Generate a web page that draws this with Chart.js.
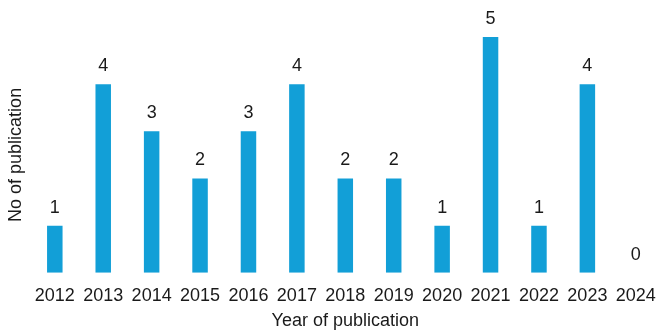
<!DOCTYPE html>
<html>
<head>
<meta charset="utf-8">
<style>
  html, body { margin: 0; padding: 0; background: #ffffff; }
  #wrap { width: 660px; height: 332px; position: relative; }
</style>
<script src="https://cdn.jsdelivr.net/npm/chart.js@4.4.0/dist/chart.umd.min.js"></script>
</head>
<body>
<div id="wrap"><canvas id="chart"></canvas></div>
<script>
// Publications per year
const years = ['2012', '2013', '2014', '2015', '2016', '2017', '2018', '2019', '2020', '2021', '2022', '2023', '2024'];
const publications = [1, 4, 3, 2, 3, 4, 2, 2, 1, 5, 1, 4, 0];

const FONT = "'Liberation Sans', Arial, sans-serif";
const TEXT = '#1a1a1a';
const SIZE = 18;

// Writes each bar's value just above its top
const valueLabels = {
  id: 'valueLabels',
  afterDatasetsDraw(chart) {
    const ctx = chart.ctx;
    const meta = chart.getDatasetMeta(0);
    ctx.save();
    ctx.font = SIZE + 'px ' + FONT;
    ctx.fillStyle = TEXT;
    ctx.textAlign = 'center';
    ctx.textBaseline = 'alphabetic';
    meta.data.forEach((bar, i) => {
      ctx.fillText(String(publications[i]), bar.x, bar.y - 13);
    });
    ctx.restore();
  }
};

new Chart(document.getElementById('chart'), {
  type: 'bar',
  data: {
    labels: years,
    datasets: [{
      data: publications,
      backgroundColor: '#129fd7',
      borderWidth: 0,
      barPercentage: 0.32,
      categoryPercentage: 1
    }]
  },
  options: {
    responsive: true,
    maintainAspectRatio: false,
    animation: false,
    layout: { padding: { top: 37, left: 5, right: -4, bottom: 0 } },
    plugins: {
      legend: { display: false },
      tooltip: { enabled: false }
    },
    scales: {
      x: {
        // grid hidden; tick length only spaces the labels below the bars
        grid: { display: false, drawTicks: true, tickLength: 9 },
        border: { display: false },
        ticks: { color: TEXT, font: { family: FONT, size: SIZE }, padding: 3, maxRotation: 0, autoSkip: false },
        title: { display: true, text: 'Year of publication', color: TEXT, font: { family: FONT, size: SIZE }, padding: { top: 1, bottom: 0 } }
      },
      y: {
        min: 0,
        max: 5,
        grid: { display: false, drawTicks: false },
        border: { display: false },
        ticks: { display: false },
        title: { display: true, text: 'No of publication', color: TEXT, font: { family: FONT, size: SIZE }, padding: { top: 0, bottom: 4 } }
      }
    }
  },
  plugins: [valueLabels]
});
</script>
</body>
</html>
